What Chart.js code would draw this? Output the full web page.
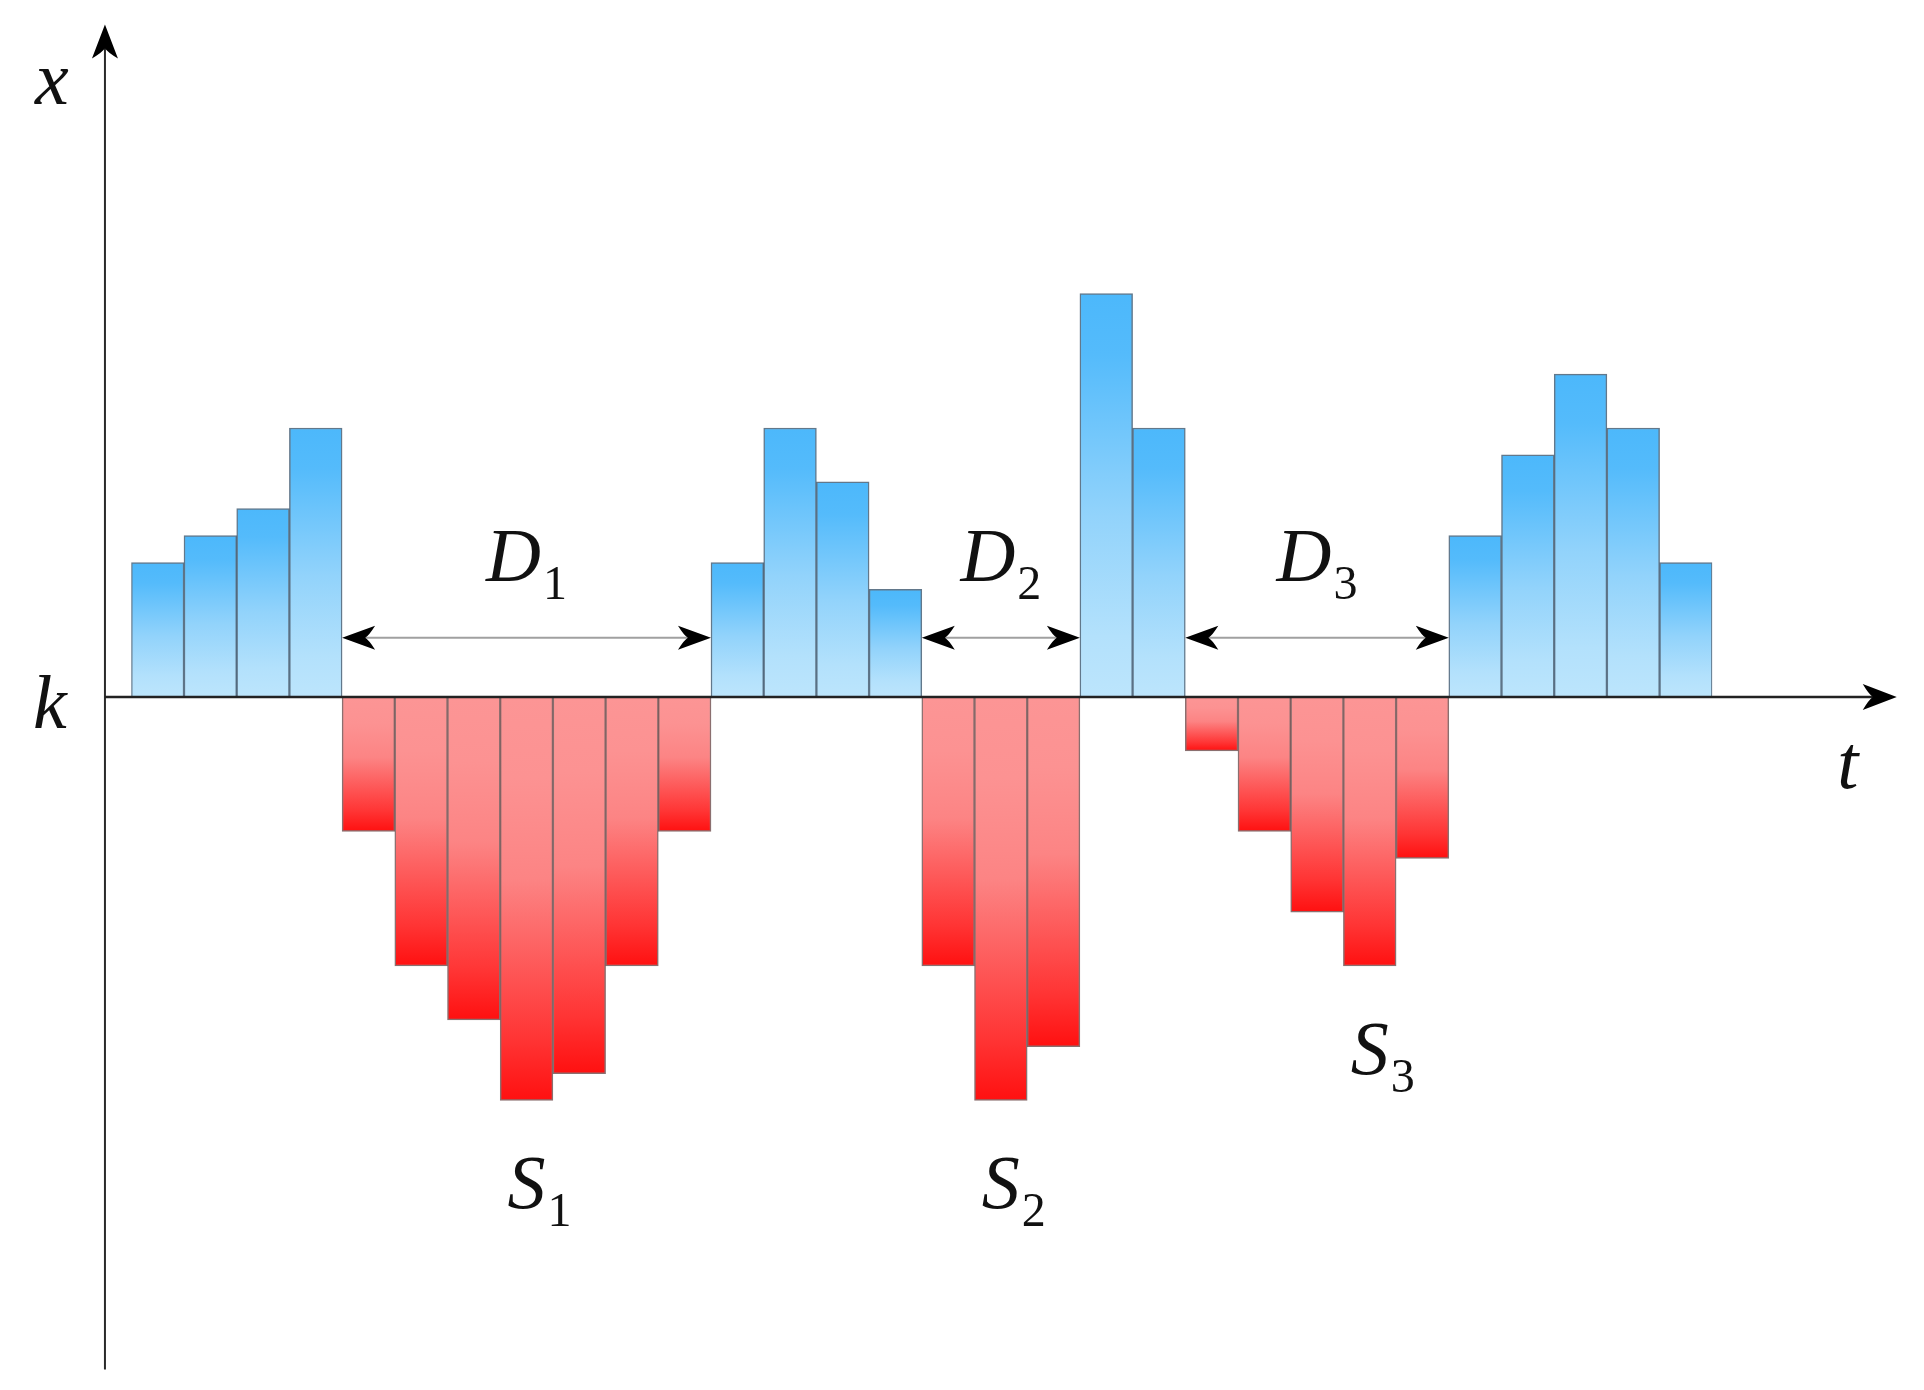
<!DOCTYPE html>
<html>
<head>
<meta charset="utf-8">
<script src="https://cdn.jsdelivr.net/npm/chart.js@4.4.1/dist/chart.umd.min.js"></script>
<style>
html,body{margin:0;padding:0;background:#ffffff;}
#wrap{width:1924px;height:1390px;position:relative;}
</style>
</head>
<body>
<div id="wrap"><canvas id="c" width="1924" height="1390"></canvas></div>
<script>
// ---- data ----
const periods = ['1','2','3','4','5','6','7','8','9','10','11','12','13','14','15',
                 '16','17','18','19','20','21','22','23','24','25','26','27','28','29','30'];
const values = [5, 6, 7, 10, -5, -10, -12, -15, -14, -10, -5, 5, 10, 8, 4,
                -10, -15, -13, 15, 10, -2, -5, -8, -10, -6, 6, 9, 12, 10, 5];
const durationLabels = ['D1', 'D2', 'D3'];
const severityLabels = ['S1', 'S2', 'S3'];
const valueAxisName = 'x';
const timeAxisName = 't';
const thresholdName = 'k';
const valueRange = [-25, 25];

// ---- styling helpers ----
const MAIN_FONT = 'italic 76px "Liberation Serif", "DejaVu Serif", serif';
const SUB_FONT = '48px "Liberation Serif", "DejaVu Serif", serif';

function barFill(ctx) {
  const chart = ctx.chart;
  const v = ctx.raw;
  if (!chart.chartArea || !chart.scales.y) return v >= 0 ? '#7fcbf8' : '#fb8080';
  const ys = chart.scales.y;
  const p0 = ys.getPixelForValue(0);
  const p1 = ys.getPixelForValue(v);
  if (Math.abs(p1 - p0) < 1) return v >= 0 ? '#7fcbf8' : '#fb8080';
  const g = chart.ctx.createLinearGradient(0, p1, 0, p0); // from bar end to baseline
  if (v >= 0) {
    g.addColorStop(0, '#4cb8fb');
    g.addColorStop(0.15, '#54bbfb');
    g.addColorStop(0.55, '#92d3fb');
    g.addColorStop(0.85, '#b3e1fc');
    g.addColorStop(1, '#bce5fc');
  } else {
    g.addColorStop(0, '#ff1010');
    g.addColorStop(0.15, '#ff3434');
    g.addColorStop(0.55, '#fc8484');
    g.addColorStop(0.8, '#fc9292');
    g.addColorStop(1, '#fc9595');
  }
  return g;
}

function arrowHead(c, tx, ty, dx, dy, len, half) {
  const px = -dy, py = dx;
  const bx = tx - dx * len, by = ty - dy * len;
  const nx = tx - dx * len * 0.7, ny = ty - dy * len * 0.7;
  c.beginPath();
  c.moveTo(tx, ty);
  c.lineTo(bx + px * half, by + py * half);
  c.quadraticCurveTo(nx - dx * len * 0.12 + px * half * 0.2, ny - dy * len * 0.12 + py * half * 0.2, nx, ny);
  c.quadraticCurveTo(nx - dx * len * 0.12 - px * half * 0.2, ny - dy * len * 0.12 - py * half * 0.2,
                     bx - px * half, by - py * half);
  c.closePath();
  c.fill();
}

function drawSubLabel(c, text, cx, baseline, centerMain) {
  const main = text.charAt(0), sub = text.slice(1);
  c.font = MAIN_FONT;
  const wm = c.measureText(main).width;
  c.font = SUB_FONT;
  const ws = c.measureText(sub).width;
  const gap = 2;
  let x0 = centerMain ? cx - wm / 2 : cx - (wm + gap + ws) / 2;
  c.textAlign = 'left';
  c.textBaseline = 'alphabetic';
  c.fillStyle = '#111';
  c.font = MAIN_FONT;
  c.fillText(main, x0, baseline);
  c.font = SUB_FONT;
  c.fillText(sub, x0 + wm + gap, baseline + 18);
}

const overlay = {
  id: 'overlay',
  afterDatasetsDraw(chart) {
    const c = chart.ctx;
    const xs = chart.scales.x, ys = chart.scales.y;
    const area = chart.chartArea;
    const bw = (area.right - area.left) / values.length;
    const edge = i => area.left + i * bw;
    const y0 = ys.getPixelForValue(0);
    const axisX = area.left - bw / 2;
    const tipX = area.right + 3.5 * bw;

    c.save();
    // y axis
    c.strokeStyle = '#2a2a2a';
    c.lineWidth = 2;
    c.beginPath();
    c.moveTo(axisX, area.bottom);
    c.lineTo(axisX, area.top + 20);
    c.stroke();
    c.fillStyle = '#000';
    arrowHead(c, axisX, area.top, 0, -1, 34, 13);
    // x axis
    c.strokeStyle = '#222';
    c.lineWidth = 2.5;
    c.beginPath();
    c.moveTo(axisX, y0);
    c.lineTo(tipX - 20, y0);
    c.stroke();
    arrowHead(c, tipX, y0, 1, 0, 34, 13);

    // axis names
    c.fillStyle = '#111';
    c.font = MAIN_FONT;
    c.textAlign = 'center';
    c.textBaseline = 'alphabetic';
    c.fillText(valueAxisName, axisX - 53, area.top + 79);
    c.fillText(thresholdName, axisX - 55, y0 + 31);
    c.fillText(timeAxisName, tipX - 49, y0 + 91);

    // runs below threshold
    const runs = [];
    let i = 0;
    while (i < values.length) {
      if (values[i] < 0) {
        let j = i, minI = i;
        while (j < values.length && values[j] < 0) { if (values[j] < values[minI]) minI = j; j++; }
        runs.push({ start: i, end: j, minI });
        i = j;
      } else i++;
    }
    const arrowY = ys.getPixelForValue(2.2);
    runs.forEach((r, k) => {
      const x1 = edge(r.start), x2 = edge(r.end);
      c.strokeStyle = '#a0a0a0';
      c.lineWidth = 2;
      c.beginPath();
      c.moveTo(x1 + 20, arrowY);
      c.lineTo(x2 - 20, arrowY);
      c.stroke();
      c.fillStyle = '#000';
      arrowHead(c, x1, arrowY, -1, 0, 33, 12);
      arrowHead(c, x2, arrowY, 1, 0, 33, 12);
      if (durationLabels[k]) drawSubLabel(c, durationLabels[k], (x1 + x2) / 2, ys.getPixelForValue(4.3), false);
      if (severityLabels[k]) {
        const cx = xs.getPixelForValue(r.minI);
        drawSubLabel(c, severityLabels[k], cx, ys.getPixelForValue(values[r.minI] - 4), true);
      }
    });
    c.restore();
  }
};

new Chart(document.getElementById('c'), {
  type: 'bar',
  data: {
    labels: periods,
    datasets: [{
      data: values,
      backgroundColor: barFill,
      borderColor: ctx => ctx.raw >= 0 ? 'rgba(45,75,100,0.75)' : 'rgba(90,50,50,0.7)',
      borderWidth: 1.5,
      borderSkipped: 'start',
      barPercentage: 1,
      categoryPercentage: 1
    }]
  },
  options: {
    responsive: false,
    animation: false,
    devicePixelRatio: 1,
    layout: { padding: { left: 131.3, right: 211.7, top: 24.5, bottom: 20.5 } },
    plugins: { legend: { display: false }, tooltip: { enabled: false } },
    scales: {
      x: { display: false, offset: true },
      y: { display: false, min: valueRange[0], max: valueRange[1] }
    }
  },
  plugins: [overlay]
});
</script>
</body>
</html>
